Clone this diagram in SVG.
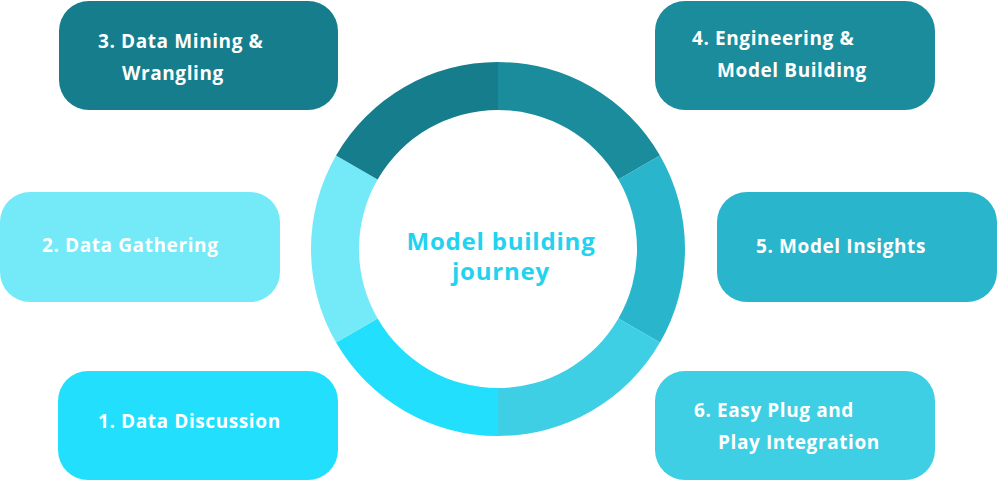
<svg xmlns="http://www.w3.org/2000/svg" width="997" height="481" viewBox="0 0 997 481">
<style>
.lbl{font-family:"Open Sans","Liberation Sans",sans-serif;font-weight:700;font-size:19px;letter-spacing:0.6px;fill:#ffffff;}
.ctr{font-family:"Open Sans","Liberation Sans",sans-serif;font-weight:700;font-size:24px;letter-spacing:0.8px;fill:#22d3ef;}
</style>
<rect width="997" height="481" fill="#ffffff"/>
<g id="ring">
<path d="M498,62 A187,187 0 0 1 659.95,155.5 L618.38,179.5 A139,139 0 0 0 498,110 Z" fill="#1a8c9c"/>
<path d="M659.95,155.5 A187,187 0 0 1 659.95,342.5 L618.38,318.5 A139,139 0 0 0 618.38,179.5 Z" fill="#29b6cc"/>
<path d="M659.95,342.5 A187,187 0 0 1 498,436 L498,388 A139,139 0 0 0 618.38,318.5 Z" fill="#3ecfe5"/>
<path d="M498,436 A187,187 0 0 1 336.05,342.5 L377.62,318.5 A139,139 0 0 0 498,388 Z" fill="#22e0fd"/>
<path d="M336.05,342.5 A187,187 0 0 1 336.05,155.5 L377.62,179.5 A139,139 0 0 0 377.62,318.5 Z" fill="#74eaf8"/>
<path d="M336.05,155.5 A187,187 0 0 1 498,62 L498,110 A139,139 0 0 0 377.62,179.5 Z" fill="#157d8b"/>
<text class="ctr" x="501" y="250" text-anchor="middle">Model building</text>
<text class="ctr" x="501" y="280" text-anchor="middle">journey</text>
</g>
<g id="node3">
<rect x="59" y="1" width="279" height="109" rx="30" fill="#157d8b"/>
<text class="lbl" x="98" y="48">3. Data Mining &amp;</text>
<text class="lbl" x="122" y="80">Wrangling</text>
</g>
<g id="node4">
<rect x="655" y="1" width="280" height="109" rx="30" fill="#1a8c9c"/>
<text class="lbl" x="692" y="45">4. Engineering &amp;</text>
<text class="lbl" x="717" y="77">Model Building</text>
</g>
<g id="node2">
<rect x="0" y="192" width="280" height="110" rx="30" fill="#74eaf8"/>
<text class="lbl" x="42" y="252">2. Data Gathering</text>
</g>
<g id="node5">
<rect x="717" y="192" width="280" height="110" rx="30" fill="#29b6cc"/>
<text class="lbl" x="756" y="253">5. Model Insights</text>
</g>
<g id="node1">
<rect x="58" y="371" width="280" height="109" rx="30" fill="#22e0fd"/>
<text class="lbl" x="98" y="428">1. Data Discussion</text>
</g>
<g id="node6">
<rect x="655" y="371" width="280" height="109" rx="30" fill="#3ecfe5"/>
<text class="lbl" x="694" y="417">6. Easy Plug and</text>
<text class="lbl" x="718" y="449">Play Integration</text>
</g>
<g id="connectors"></g>
</svg>
